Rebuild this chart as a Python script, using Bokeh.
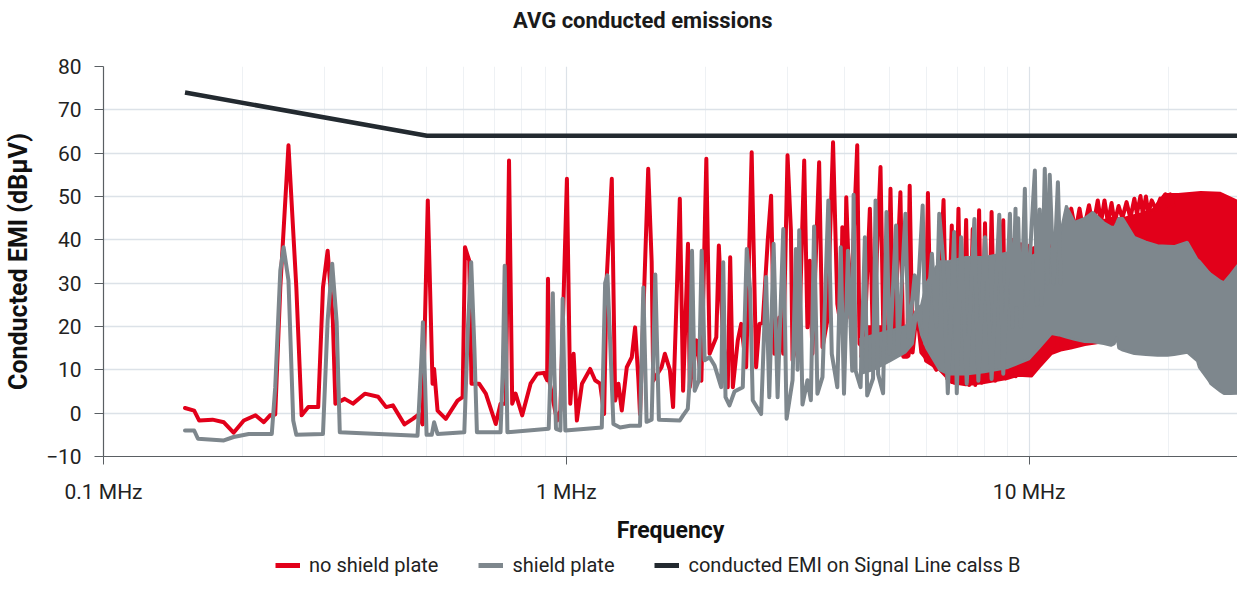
from bokeh.plotting import figure
from bokeh.layouts import column
from bokeh.models import Range1d, FixedTicker, Legend, LegendItem, CustomJSTickFormatter
from bokeh.core.properties import value
from bokeh.embed import file_html
from bokeh.resources import INLINE

# ---------------- data (MHz, dBuV) ----------------
limit_freq = [0.15, 0.5, 30.0]
limit_level = [74, 64, 64]

red_freq = [0.150, 0.157, 0.161, 0.172, 0.182, 0.191, 0.201, 0.213, 0.222, 0.229, 0.235, 0.241, 0.251, 0.261,
            0.268, 0.277, 0.291, 0.298, 0.305, 0.313, 0.317, 0.332, 0.346, 0.367, 0.392, 0.408, 0.422, 0.447,
            0.466, 0.481, 0.489, 0.502, 0.514, 0.518, 0.527, 0.549, 0.582, 0.597, 0.604, 0.617, 0.624, 0.648,
            0.670, 0.704, 0.721, 0.740, 0.752, 0.764, 0.777, 0.803, 0.837, 0.865, 0.894, 0.909, 0.913, 0.918,
            0.955, 0.971, 1.003, 1.020, 1.037, 1.054, 1.081, 1.126, 1.154, 1.183, 1.207, 1.223, 1.254, 1.275,
            1.296, 1.318, 1.351, 1.385, 1.408, 1.431, 1.443, 1.503, 1.529, 1.541, 1.606, 1.633, 1.674, 1.701,
            1.759, 1.788, 1.832, 1.848, 1.910, 1.958, 2.007, 2.040, 2.109, 2.136, 2.180, 2.233, 2.260, 2.290,
            2.347, 2.387, 2.447, 2.515, 2.571, 2.613, 2.657, 2.724, 2.770, 2.815, 2.885, 2.943, 3.006, 3.057,
            3.082, 3.186, 3.266, 3.319, 3.359, 3.402, 3.518, 3.577, 3.665, 3.770, 3.851, 3.920, 3.948, 3.990,
            4.026, 4.110, 4.252, 4.300, 4.400, 4.528, 4.600, 4.774, 4.850, 4.950, 5.017, 5.100, 5.271, 5.350,
            5.450, 5.520, 5.600, 5.723, 5.850, 5.967, 6.044, 6.150, 6.300, 6.533, 6.650, 6.806, 6.900, 7.036,
            7.150, 7.310, 7.420, 7.553, 7.650, 7.797, 7.900, 8.030, 8.150, 8.297, 8.450, 8.793, 8.900, 9.250,
            9.350, 9.600, 9.750, 10.03, 10.20, 10.50, 11.00, 11.50, 11.73, 12.00, 12.33, 12.60, 12.85, 13.10,
            13.47, 13.75, 14.07, 14.30, 14.55, 14.80, 15.07, 15.30, 15.61, 15.90, 16.24, 16.55, 16.88, 17.10,
            17.40, 17.60, 17.88, 18.10, 18.40, 18.80, 19.20, 19.45, 19.70, 19.95, 20.20, 20.50]
red_level = [1.2, 0.6, -1.7, -1.5, -2.1, -4.5, -1.7, -0.5, -2.1, -0.5, -0.3, 29, 61.8, 29,
             -0.5, 1.4, 1.4, 29, 37.5, 21.4, 2.2, 3.3, 2.2, 4.5, 3.8, 1.4, 1.8, -2.6,
             -1.3, -0.2, -2.6, 49.1, 6.8, 10.2, 0.6, -1.3, 2.9, 3.7, 38.3, 35.2, 6.8, 6.8,
             4.5, -2.5, 2.2, 2.2, 58.3, 2.2, 4.5, -0.5, 6.8, 9.1, 9.3, 7.6, 31, 7.6,
             -1.7, 0.6, 54.1, 2.2, 13.7, -1.7, 6.8, 10.2, 7.6, 6.8, -0.2, 31.4, 54.1, 2.9,
             6.8, 0.6, 10.6, 12.9, 19.8, 8, -0.2, 56.4, 35, 7.5, 10.6, 13.7, 10, 1.4,
             49.5, 5.2, 39.1, 6, 16.8, 7.5, 58.7, 13.7, 17.5, 38.7, 17.5, 6, 36, 6,
             16.8, 20.6, 10.6, 60.2, 10.6, 20.6, 20.8, 39.8, 50.2, 13.7, 22.1, 13.7, 59.5, 42.2,
             12.2, 18.3, 58.3, 19.8, 35.2, 13.7, 57.9, 15.2, 21.4, 62.5, 25.2, 20, 42.9, 20,
             49.8, 22, 61.8, 16, 15, 47.2, 15, 56.8, 14, 15, 51.8, 14, 51, 13,
             13, 52.5, 14, 23.7, 14, 12.9, 50.8, 12, 10, 49.2, 8, 43.3, 7, 47.2,
             7, 44.6, 6.5, 42.5, 6.5, 46.8, 7, 43.8, 7.5, 46.4, 7.5, 44.5, 8, 40,
             8.5, 39, 9, 38.7, 10, 12, 14, 15, 42.9, 40, 47.2, 42, 47.2, 42,
             48, 43, 49.1, 44, 49.1, 44, 48.5, 44, 47.8, 45, 48.7, 45, 49.5, 46,
             50.1, 46, 50, 46, 49.1, 47, 49.5, 47, 50.5, 48, 50.5, 48]

gray_freq = [0.150, 0.157, 0.160, 0.182, 0.191, 0.206, 0.231, 0.235, 0.241, 0.245, 0.251, 0.257, 0.261, 0.298,
             0.305, 0.312, 0.319, 0.324, 0.477, 0.487, 0.490, 0.495, 0.499, 0.512, 0.518, 0.527, 0.602, 0.613,
             0.623, 0.633, 0.641, 0.721, 0.729, 0.736, 0.746, 0.916, 0.928, 0.935, 0.942, 0.950, 0.971, 0.982,
             0.995, 1.193, 1.213, 1.227, 1.240, 1.264, 1.307, 1.373, 1.443, 1.467, 1.491, 1.529, 1.557, 1.585,
             1.759, 1.788, 1.830, 1.848, 1.869, 1.894, 1.935, 1.961, 1.990, 2.040, 2.091, 2.161, 2.183, 2.208,
             2.252, 2.309, 2.406, 2.454, 2.496, 2.528, 2.636, 2.702, 2.745, 2.805, 2.861, 2.943, 2.992, 3.082,
             3.134, 3.160, 3.186, 3.238, 3.319, 3.376, 3.431, 3.488, 3.577, 3.683, 3.746, 3.851, 3.917, 3.981,
             4.060, 4.147, 4.176, 4.218, 4.323, 4.417, 4.468, 4.600, 4.658, 4.717, 4.836, 4.918, 4.998, 5.158,
             5.208, 5.404, 5.488, 5.659, 5.723, 5.888, 5.967, 6.165, 6.300, 6.394, 6.533, 6.672, 6.887, 6.977,
             7.130, 7.332, 7.616, 7.767, 8.030, 8.297, 8.620, 8.793, 9.090, 9.200, 9.345, 9.400, 9.470, 9.600,
             9.790, 9.900, 10.29, 10.40, 10.54, 10.65, 10.81, 10.95, 11.08, 11.30, 11.54, 11.70]
gray_level = [-4, -4, -5.9, -6.3, -5.5, -4.8, -4.8, 6, 32.9, 38.3, 30.6, -1.7, -5, -4.8,
              21.4, 34.5, 21, -4.4, -5.2, 13.7, 21, 8, -5, -5, -2.1, -4.8, -4.4, 20,
              34.8, 15, -4.4, -4.4, 10, 34, -4.4, -3.6, 15, 27.7, 10, -3.6, -4, 26.4,
              -4, -3.3, 30, 31.8, 20, -2.5, -3.3, -2.9, -2.9, 29, -2, -1.5, 32, -1.5,
              -1.7, -0.5, 1, 7.6, 37.5, 5.2, 7.6, 37.5, 12.2, 12.9, 11, 6, 34.8, 3.7,
              1.8, 5, 6, 37.9, 28.3, 3, -0.2, 31.4, 3.7, 39.1, 3.7, 42.5, -1.3, 7.6,
              37.9, 10, 42.2, 2, 7.6, 3, 43.1, 4.5, 8.3, 49.1, 13.7, 6, 38.3, 4.5,
              37.5, 9.8, 50.4, 9.8, 6, 40.6, 4.1, 8, 49.1, 9, 4.6, 46.4, 13.7, 43.3,
              13.7, 46, 17.5, 31.8, 23.7, 47.9, 16, 36.8, 20, 46, 34.5, 4.6, 41.8, 4.6,
              40.6, 6.8, 44.8, 7.5, 40.6, 7.9, 45.8, 9.1, 46, 20, 47.2, 25, 45, 20,
              51.8, 25, 56, 25, 47, 25, 56.4, 30, 55, 30, 53.3, 30]

# dense (unresolvable) parts of the spectra: envelopes of the filled regions
red_band_freq = [4.3, 5.0, 5.5, 5.72, 5.97, 6.4, 6.8, 7.3, 8.0, 9.0, 9.47, 10.12, 10.5, 11.17, 11.7, 12.3,
                 13.2, 14.0, 15.0, 16.0, 17.4, 18.5, 19.6, 21.0, 23.5, 25.9, 28.15, 30.0]
red_band_low = [13, 14, 13, 22, 12, 10, 7, 6.5, 7, 8, 8.7, 8.5, 10.5, 13.7, 14.5, 15,
                15.8, 16.2, 17, 17, 17, 17, 17, 17, 17, 17, 17, 17]
red_band_high = [20, 20, 20, 24, 25, 30, 32, 33, 34, 35, 36, 38, 38.7, 40, 41, 42,
                 43, 44, 45, 45, 46, 47, 50.5, 50.5, 51, 50.8, 49, 46.8]

gray_band_freq = [4.3, 4.6, 5.0, 5.4, 5.6, 5.72, 5.85, 6.0, 6.4, 6.7, 7.3, 8.0, 9.0, 10.0, 10.5, 11.17,
                  11.6, 12.03, 12.54, 13.18, 13.73, 14.5, 15.03, 15.29, 15.46, 15.6, 15.93, 16.88, 17.88,
                  18.94, 19.9, 20.57, 21.98, 23.09, 23.29, 24.46, 24.66, 25.91, 26.36, 27.23, 28.61, 30.0]
gray_band_low = [9, 10, 12, 14, 16, 23, 18, 15, 10, 9, 9, 9.5, 10.5, 12.5, 15, 18.3,
                 18, 17.5, 17, 16.5, 16.4, 16, 15.6, 16, 17.7, 15, 14.5, 13.7, 13.5,
                 13.3, 13.3, 13.5, 14, 12, 10.6, 7.5, 6.8, 5, 4.5, 4.5, 4.6, 4.6]
gray_band_high = [17, 18, 19, 20, 22, 24, 25, 30, 35, 35, 36, 36, 37, 36, 37, 38,
                  40, 47.9, 44.1, 45, 46.4, 44, 43, 42.9, 44, 45, 45, 40.6, 39.5,
                  38.7, 38.6, 38.5, 39.5, 35.5, 35.2, 32.5, 32.2, 30.5, 30.2, 32, 35, 38.3]

x_ticks = [0.1, 1, 10]
x_minor = [0.2, 0.3, 0.4, 0.5, 0.6, 0.7, 0.8, 0.9, 2, 3, 4, 5, 6, 7, 8, 9, 20, 30]
y_ticks = [-10, 0, 10, 20, 30, 40, 50, 60, 70, 80]

title_text = "AVG conducted emissions"
series_names = ["no shield plate", "shield plate", "conducted EMI on Signal Line calss B"]

# ---------------- styling ----------------
RED = "#E2001A"
GRAY = "#7E878D"
DARK = "#232A30"
FONT = "Roboto"
W = 1237
LEFT = 93

# ---- title strip (its frame is aligned with the chart frame by the column) ----
pt = figure(width=W, height=40, x_range=Range1d(101, 1245), y_range=Range1d(0, 40),
            output_backend="svg", toolbar_location=None,
            min_border_left=LEFT, min_border_right=0, min_border_top=0, min_border_bottom=0)
pt.axis.visible = False
pt.grid.visible = False
pt.outline_line_color = None
pt.text(x=[645], y=[20], text=[title_text], text_align="center", text_baseline="middle",
        text_font=value(FONT), text_font_size="22px", text_font_style="bold", text_color="#1a1a1a")

# ---- main chart ----
p = figure(width=W, height=508, x_axis_type="log",
           x_range=Range1d(0.1, 28.2), y_range=Range1d(-10, 80),
           output_backend="svg", toolbar_location=None,
           min_border_left=LEFT, min_border_right=0, min_border_top=26, min_border_bottom=92)
p.outline_line_color = None
p.background_fill_color = "white"
p.border_fill_color = "white"

p.xaxis.ticker = FixedTicker(ticks=x_ticks, minor_ticks=x_minor)
p.xaxis.formatter = CustomJSTickFormatter(code="return tick + ' MHz';")
p.xaxis.axis_label = "Frequency"
p.yaxis.ticker = FixedTicker(ticks=y_ticks)
p.yaxis.axis_label = "Conducted EMI (dBµV)"
for ax in (p.xaxis, p.yaxis):
    ax.axis_line_color = "#5a5f63"
    ax.axis_line_width = 1.2
    ax.major_tick_line_color = "#5a5f63"
    ax.major_tick_in = 0
    ax.minor_tick_line_color = None
    ax.major_label_text_font = FONT
    ax.major_label_text_font_size = "21px"
    ax.major_label_text_color = "#222222"
    ax.axis_label_text_font = FONT
    ax.axis_label_text_font_size = "23px"
    ax.axis_label_text_font_style = "bold"
    ax.axis_label_text_color = "#111111"
p.yaxis.axis_label_text_font_size = "25px"
p.xaxis.major_tick_out = 8
p.xaxis.major_label_standoff = 15
p.xaxis.axis_label_standoff = 10
p.yaxis.major_tick_out = 9
p.yaxis.major_label_standoff = 13
p.yaxis.axis_label_standoff = 10

p.xgrid.grid_line_color = "#DCE2E8"
p.xgrid.minor_grid_line_color = "#EEF1F4"
p.ygrid.grid_line_color = "#DCE2E8"
p.xgrid.grid_line_width = 1.2
p.ygrid.grid_line_width = 1.3

p.varea(x=red_band_freq, y1=red_band_low, y2=red_band_high, fill_color=RED)
p.line(red_band_freq, red_band_low, line_color=RED, line_width=2.5)
p.line(red_band_freq, red_band_high, line_color=RED, line_width=2.5)
p.line(red_freq, red_level, line_color=RED, line_width=4, line_join="round", line_cap="round")

p.varea(x=gray_band_freq, y1=gray_band_low, y2=gray_band_high, fill_color=GRAY)
p.line(gray_band_freq, gray_band_low, line_color=GRAY, line_width=2.5)
p.line(gray_band_freq, gray_band_high, line_color=GRAY, line_width=2.5)
p.line(gray_freq, gray_level, line_color=GRAY, line_width=4, line_join="round", line_cap="round")

p.line(limit_freq, limit_level, line_color=DARK, line_width=4.5)

# ---- legend strip (frame aligned with the chart frame) ----
pl = figure(width=W, height=29, x_range=Range1d(0, 1), y_range=Range1d(0, 1),
            output_backend="svg", toolbar_location=None,
            min_border_left=LEFT, min_border_right=0, min_border_top=0, min_border_bottom=0)
pl.axis.visible = False
pl.grid.visible = False
pl.outline_line_color = None
k_red = pl.line(x=[5, 6], y=[5, 5], line_color=RED, line_width=5)
k_gray = pl.line(x=[5, 6], y=[5, 5], line_color=GRAY, line_width=5)
k_lim = pl.line(x=[5, 6], y=[5, 5], line_color=DARK, line_width=5)
legend = Legend(items=[LegendItem(label=series_names[0], renderers=[k_red]),
                       LegendItem(label=series_names[1], renderers=[k_gray]),
                       LegendItem(label=series_names[2], renderers=[k_lim])],
                orientation="horizontal", location=(172, 0),
                label_text_font=FONT, label_text_font_size="20px", label_text_color="#222222",
                glyph_width=25, glyph_height=20, label_standoff=9, spacing=40,
                border_line_color=None, background_fill_alpha=0, padding=0, margin=0)
pl.add_layout(legend, "center")

layout = column(pt, p, pl, spacing=0)
open("out.html", "w").write(file_html(layout, INLINE))
